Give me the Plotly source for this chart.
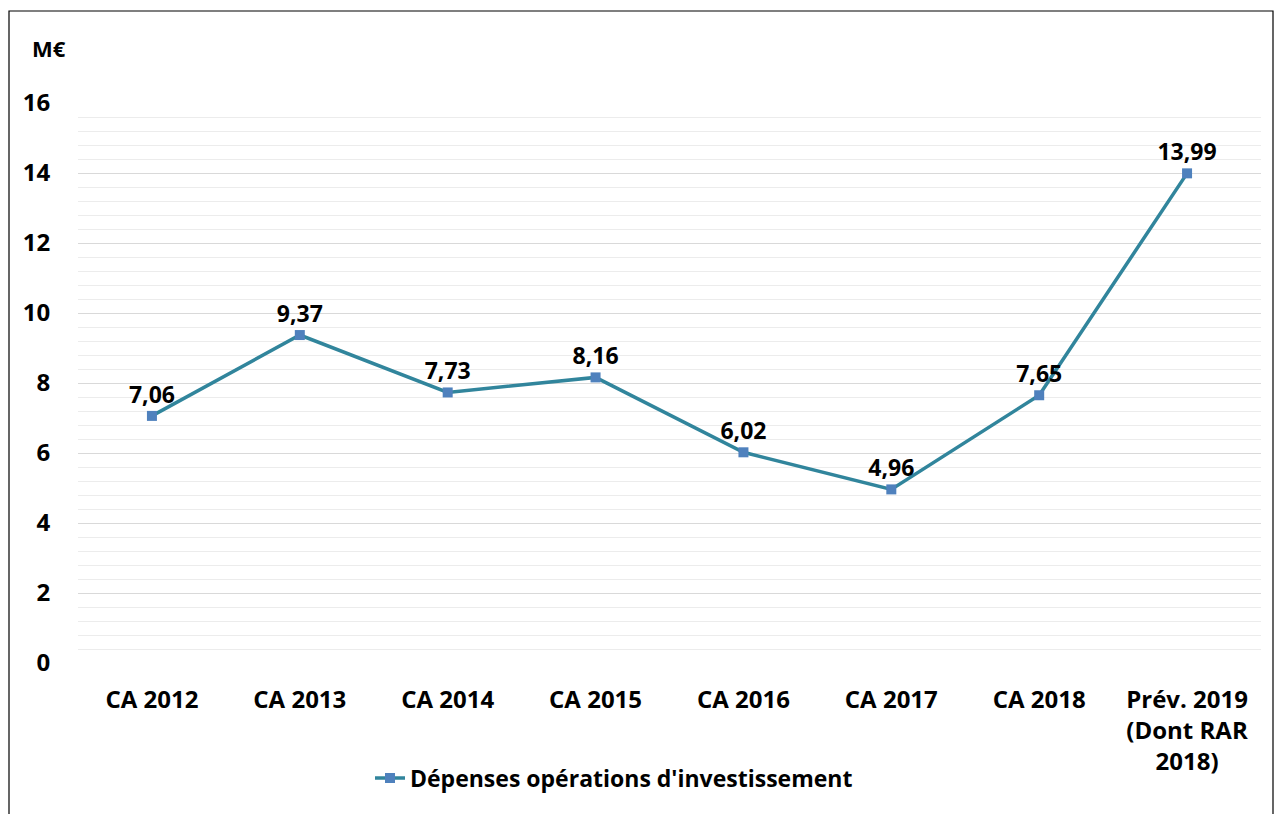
import plotly.graph_objects as go

categories = ["CA 2012", "CA 2013", "CA 2014", "CA 2015", "CA 2016", "CA 2017", "CA 2018",
              "Prév. 2019<br>(Dont RAR<br>2018)"]
depenses = [7.06, 9.37, 7.73, 8.16, 6.02, 4.96, 7.65, 13.99]
labels = [f"{v:.2f}".replace(".", ",") for v in depenses]

# la page html décale la figure de 8 px (marge du body)
OFF = 8
W, H = 1284, 814
L, R, T, B = 78 - OFF, W - (1261 - OFF), 103 - OFF, H - (663 - OFF)
pw, ph = W - L - R, H - T - B


def px(x):
    return (x - OFF - L) / pw


def py(y):
    return (H - B - (y - OFF)) / ph


fig = go.Figure()
fig.add_trace(go.Scatter(
    x=categories, y=depenses, mode="lines+markers+text",
    name="Dépenses opérations d'investissement",
    line=dict(color="#31859C", width=3.5),
    marker=dict(symbol="square", size=10, color="#4F81BD"),
    text=labels, textposition="top center",
    textfont=dict(size=23, color="#000000", family="Open Sans", weight="bold"),
    cliponaxis=False,
))

fig.update_layout(
    width=W, height=H,
    margin=dict(l=L, r=R, t=T, b=B, autoexpand=False),
    paper_bgcolor="white", plot_bgcolor="white",
    font=dict(family="Open Sans", size=22, color="#000000", weight="bold"),
    showlegend=True,
    legend=dict(orientation="h", x=px(614), xanchor="center", y=py(778), yanchor="middle",
                font=dict(size=23, family="Open Sans", weight="bold"), itemwidth=30),
    xaxis=dict(showgrid=False, showline=False, zeroline=False, ticks="", automargin=False,
               ticklabelstandoff=20, tickfont=dict(size=24), range=[-0.5, 7.5]),
    # ticks invisibles pour écarter les étiquettes de l'axe
    yaxis=dict(range=[0, 16], dtick=2, showgrid=True, gridcolor="#d9d9d9", gridwidth=1,
               zeroline=False, showline=False, ticks="outside", ticklen=22,
               tickcolor="rgba(0,0,0,0)", automargin=False,
               tickfont=dict(size=24),
               minor=dict(dtick=0.4, showgrid=True, gridcolor="#ececec", gridwidth=1)),
    shapes=[dict(type="rect", xref="paper", yref="paper",
                 x0=px(9), x1=px(1273), y0=py(840), y1=py(11),
                 line=dict(color="#000000", width=1.2))],
    annotations=[dict(text="M€", xref="paper", yref="paper",
                      x=px(49), y=py(48), xanchor="center", yanchor="middle",
                      showarrow=False,
                      font=dict(size=22, family="Open Sans", weight="bold"))],
)

fig.write_html("out.html")
